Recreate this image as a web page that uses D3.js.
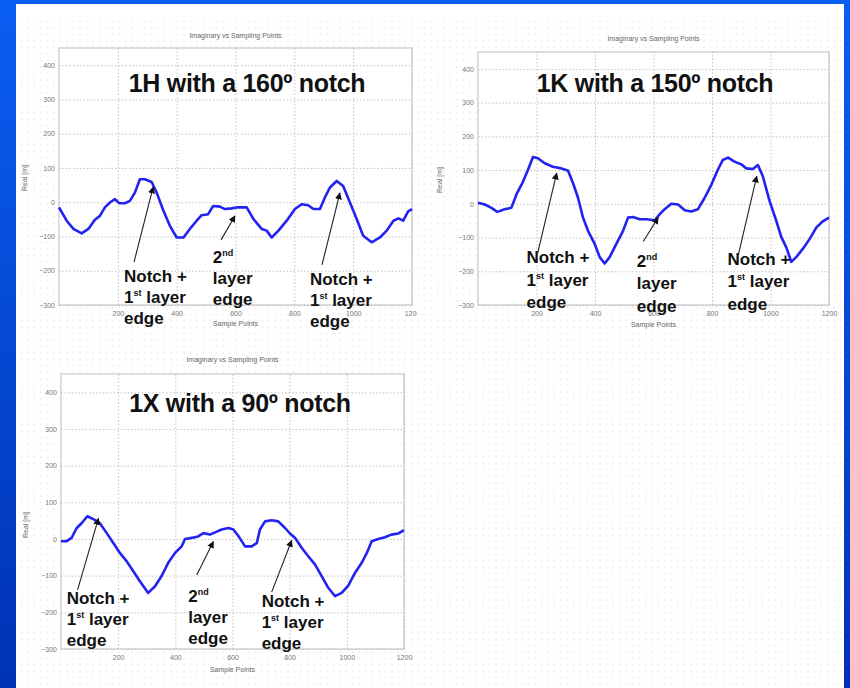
<!DOCTYPE html>
<html>
<head>
<meta charset="utf-8">
<script src="https://cdn.jsdelivr.net/npm/d3@7"></script>
<style>
  html, body { margin: 0; padding: 0; background: #fff; }
  svg { display: block; }
</style>
</head>
<body>
<div id="chart"></div>
<script>
// ---- data ----
var xTicks = [200, 400, 600, 800, 1000, 1200];
var yTicks = [-300, -200, -100, 0, 100, 200, 300, 400];
var plotTitle = "Imaginary vs Sampling Points";
var xLabel = "Sample Points";
var yLabel = "Real [m]";

var samples1H = [0, 26, 49, 77, 100, 122, 139, 156, 173, 190, 205, 224, 241, 258, 275, 292, 315, 332, 355, 377, 400, 423, 445, 468, 485, 507, 524, 547, 564, 587, 609, 638, 661, 689, 706, 723, 746, 774, 802, 825, 847, 865, 887, 904, 921, 944, 966, 989, 1012, 1034, 1063, 1091, 1114, 1137, 1154, 1170, 1187, 1200];
var real1H = [-15, -54, -78, -91, -78, -51, -40, -15, -1, 9, -3, -3, 4, 28, 67, 67, 59, 28, -25, -69, -103, -103, -78, -54, -38, -35, -11, -13, -20, -18, -15, -15, -49, -78, -83, -103, -83, -54, -20, -6, -9, -20, -20, 14, 43, 62, 47, -1, -49, -98, -117, -103, -83, -54, -47, -54, -27, -20];

var samples1K = [0, 23, 46, 66, 91, 114, 131, 154, 171, 188, 205, 228, 256, 285, 308, 325, 342, 359, 376, 399, 416, 433, 450, 473, 496, 513, 530, 553, 576, 604, 621, 638, 661, 684, 707, 729, 752, 775, 798, 820, 837, 855, 877, 900, 917, 940, 957, 974, 997, 1020, 1037, 1054, 1071, 1088, 1111, 1134, 1157, 1180, 1200];
var real1K = [3, -2, -12, -24, -16, -12, 27, 66, 101, 139, 135, 120, 110, 105, 98, 61, 18, -41, -80, -119, -158, -177, -158, -119, -80, -41, -39, -46, -46, -49, -31, -16, 0, -2, -19, -23, -16, 18, 57, 101, 130, 137, 125, 117, 105, 103, 115, 81, 8, -51, -99, -129, -172, -158, -133, -104, -70, -51, -41];

var samples1X = [0, 20, 37, 55, 72, 92, 113, 136, 160, 183, 206, 230, 253, 276, 305, 329, 352, 375, 399, 422, 434, 457, 480, 498, 521, 539, 562, 586, 603, 620, 644, 667, 685, 696, 714, 737, 760, 784, 801, 819, 842, 865, 889, 912, 935, 959, 982, 1005, 1029, 1052, 1070, 1087, 1110, 1133, 1156, 1180, 1200];
var real1X = [-6, -6, 3, 30, 43, 62, 54, 43, 16, -11, -38, -61, -88, -115, -147, -129, -101, -65, -38, -20, 0, 3, 7, 16, 12, 18, 26, 30, 26, 9, -20, -20, -11, 26, 48, 51, 48, 30, 15, 3, -24, -47, -70, -101, -133, -156, -147, -127, -92, -65, -38, -6, 0, 5, 12, 15, 24];

var chartNames = ["1H with a 160º notch", "1K with a 150º notch", "1X with a 90º notch"];

// annotation text: [base, superscript, rest]
var noteNotch = [["Notch +"], ["1", "st", " layer"], ["edge"]];
var noteSecond = [["2", "nd"], ["layer"], ["edge"]];

// annotation anchors in data units: text start, arrow tail, arrow tip
var notes1H = [
    { lines: noteNotch, text: [221, -233], from: [255, -175], to: [320, 44] },
    { lines: noteSecond, text: [523, -177], from: [551, -110], to: [598, -40] },
    { lines: noteNotch, text: [853, -242], from: [894, -183], to: [955, 27] }
];
var notes1K = [
    { lines: noteNotch, text: [166, -176], from: [204, -146], to: [269, 91] },
    { lines: noteSecond, text: [543, -186], from: [565, -112], to: [616, -41] },
    { lines: noteNotch, text: [853, -181], from: [890, -152], to: [953, 82] }
];
var notes1X = [
    { lines: noteNotch, text: [20, -178], from: [58, -139], to: [131, 56] },
    { lines: noteSecond, text: [445, -171], from: [475, -98], to: [533, -7] },
    { lines: noteNotch, text: [702, -185], from: [737, -145], to: [807, -4] }
];

// ---- layout ----
var width = 850, height = 688;

var charts = [
    { name: chartNames[0], xs: samples1H, ys: real1H, notes: notes1H,
      left: 59, right: 412, top: 48, bottom: 305, titleY: 38, xLabelY: 326, yLabelX: 25, yLabelY: 178,
      nameX: 247, nameY: 92, lh: 21, clipRight: 417 },
    { name: chartNames[1], xs: samples1K, ys: real1K, notes: notes1K,
      left: 478, right: 829, top: 52, bottom: 305, titleY: 41, xLabelY: 327, yLabelX: 440, yLabelY: 180,
      nameX: 655, nameY: 92, lh: 22.5, clipRight: 850 },
    { name: chartNames[2], xs: samples1X, ys: real1X, notes: notes1X,
      left: 61, right: 404, top: 374, bottom: 649, titleY: 362, xLabelY: 672, yLabelX: 26, yLabelY: 525,
      nameX: 240, nameY: 412, lh: 21, clipRight: 430 }
];

var svg = d3.select("#chart")
    .append("svg")
    .attr("width", width)
    .attr("height", height);

var defs = svg.append("defs");

var grad = defs.append("linearGradient")
    .attr("id", "bg")
    .attr("x1", 0).attr("y1", 0).attr("x2", 0).attr("y2", 1);
grad.append("stop").attr("offset", "0%").attr("stop-color", "#0a5ef2");
grad.append("stop").attr("offset", "100%").attr("stop-color", "#0032b4");

var dots = defs.append("pattern")
    .attr("id", "dots")
    .attr("width", 6.5).attr("height", 6.5)
    .attr("patternUnits", "userSpaceOnUse");
dots.append("circle").attr("cx", 2).attr("cy", 2).attr("r", 0.9).attr("fill", "#eaeaea");

defs.append("marker")
    .attr("id", "arrow")
    .attr("viewBox", "0 0 10 10")
    .attr("refX", 9).attr("refY", 5)
    .attr("markerWidth", 7).attr("markerHeight", 7)
    .attr("markerUnits", "userSpaceOnUse")
    .attr("orient", "auto")
    .append("path")
    .attr("d", "M0,0 L10,5 L0,10 z")
    .attr("fill", "#111");

// slide background
svg.append("rect").attr("width", width).attr("height", height).attr("fill", "url(#bg)");
svg.append("rect").attr("x", 16).attr("y", 4).attr("width", 828).attr("height", height - 4).attr("fill", "#fff");
svg.append("rect").attr("x", 16).attr("y", 20).attr("width", 828).attr("height", height - 20).attr("fill", "url(#dots)");

charts.forEach(function (c, i) {
    var w = c.right - c.left;
    var h = c.bottom - c.top;

    defs.append("clipPath")
        .attr("id", "clip" + i)
        .append("rect")
        .attr("x", 0).attr("y", 0)
        .attr("width", c.clipRight).attr("height", height);

    var g = svg.append("g").attr("clip-path", "url(#clip" + i + ")");
    var chartGroup = g.append("g")
        .attr("transform", `translate(${c.left}, ${c.top})`);

    var xScale = d3.scaleLinear().domain([0, 1200]).range([0, w]);
    var yScale = d3.scaleLinear().domain([-300, 450]).range([h, 0]);

    chartGroup.append("rect")
        .attr("width", w).attr("height", h)
        .attr("fill", "#fff");

    // grid + tick labels
    var xAxis = d3.axisBottom(xScale).tickValues(xTicks).tickSize(-h).tickPadding(6)
        .tickFormat(d3.format("d"));
    var yAxis = d3.axisLeft(yScale).tickValues(yTicks).tickSize(-w).tickPadding(4)
        .tickFormat(d3.format("d"));

    var gx = chartGroup.append("g")
        .attr("transform", `translate(0, ${h})`)
        .call(xAxis);
    var gy = chartGroup.append("g").call(yAxis);

    [gx, gy].forEach(function (ax) {
        ax.select(".domain").remove();
        ax.selectAll(".tick line")
            .attr("stroke", "#c4c4c4")
            .attr("stroke-dasharray", "1.5,2");
        ax.selectAll(".tick text")
            .attr("fill", "#777")
            .attr("font-family", "Liberation Sans, Arial, sans-serif")
            .attr("font-size", 7);
    });

    chartGroup.append("rect")
        .attr("width", w).attr("height", h)
        .attr("fill", "none")
        .attr("stroke", "#bdbdbd")
        .attr("stroke-width", 1);

    // labels
    chartGroup.append("text")
        .attr("x", w / 2).attr("y", c.titleY - c.top)
        .attr("text-anchor", "middle")
        .attr("font-family", "Liberation Sans, Arial, sans-serif")
        .attr("font-size", 7).attr("fill", "#666")
        .text(plotTitle);

    chartGroup.append("text")
        .attr("x", w / 2).attr("y", c.xLabelY - c.top)
        .attr("text-anchor", "middle")
        .attr("font-family", "Liberation Sans, Arial, sans-serif")
        .attr("font-size", 7).attr("fill", "#666")
        .text(xLabel);

    chartGroup.append("text")
        .attr("transform", `translate(${c.yLabelX - c.left + 2}, ${c.yLabelY - c.top}) rotate(-90)`)
        .attr("text-anchor", "middle")
        .attr("font-family", "Liberation Sans, Arial, sans-serif")
        .attr("font-size", 7).attr("fill", "#666")
        .text(yLabel);

    // series
    var points = c.xs.map(function (x, k) { return [x, c.ys[k]]; });
    var line = d3.line()
        .x(d => xScale(d[0]))
        .y(d => yScale(d[1]));

    chartGroup.append("path")
        .datum(points)
        .attr("fill", "none")
        .attr("stroke", "#2222f2")
        .attr("stroke-width", 2.6)
        .attr("stroke-linejoin", "round")
        .attr("d", line);

    // big heading
    svg.append("text")
        .attr("x", c.nameX).attr("y", c.nameY)
        .attr("text-anchor", "middle")
        .attr("font-family", "Liberation Sans, Arial, sans-serif")
        .attr("font-weight", "bold")
        .attr("font-size", 25)
        .attr("letter-spacing", -0.3)
        .attr("fill", "#111")
        .text(c.name);

    // annotations
    c.notes.forEach(function (n) {
        svg.append("line")
            .attr("x1", c.left + xScale(n.from[0])).attr("y1", c.top + yScale(n.from[1]))
            .attr("x2", c.left + xScale(n.to[0])).attr("y2", c.top + yScale(n.to[1]))
            .attr("stroke", "#222")
            .attr("stroke-width", 1.1)
            .attr("marker-end", "url(#arrow)");

        var tx = c.left + xScale(n.text[0]);
        var ty = c.top + yScale(n.text[1]);
        var t = svg.append("text")
            .attr("font-family", "Liberation Sans, Arial, sans-serif")
            .attr("font-weight", "bold")
            .attr("font-size", 17)
            .attr("fill", "#111");
        n.lines.forEach(function (parts, k) {
            t.append("tspan")
                .attr("x", tx).attr("y", ty + k * c.lh)
                .text(parts[0]);
            if (parts.length > 1) {
                t.append("tspan")
                    .attr("dy", -7)
                    .attr("font-size", 9)
                    .text(parts[1]);
                if (parts[2]) {
                    t.append("tspan")
                        .attr("dy", 7)
                        .text(parts[2]);
                }
            }
        });
    });
});
</script>
</body>
</html>
